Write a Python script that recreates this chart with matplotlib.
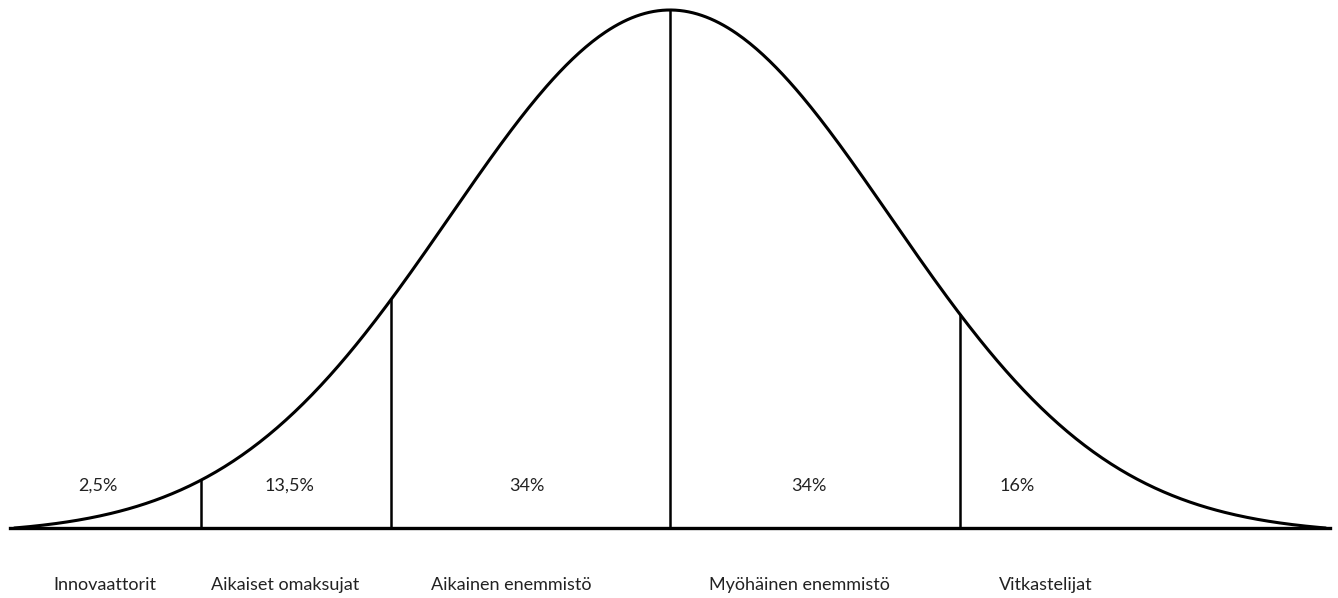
import numpy as np
import matplotlib.pyplot as plt

# omaksujaryhmät (Rogers), rajat keskihajonnan yksiköissä
groups = ["Innovaattorit", "Aikaiset omaksujat", "Aikainen enemmistö",
          "Myöhäinen enemmistö", "Vitkastelijat"]
shares = ["2,5%", "13,5%", "34%", "34%", "16%"]
bounds = [-2.13, -1.27, 0.0, 1.32]
share_x = [-2.60, -1.73, -0.65, 0.63, 1.58]
group_x = [-2.57, -1.75, -0.72, 0.59, 1.71]
z_end = 2.98


def bell(z):
    e0 = np.exp(-z_end**2 / 2)
    return (np.exp(-np.asarray(z)**2 / 2) - e0) / (1 - e0)


fig = plt.figure(figsize=(13.38, 5.98), dpi=100)
ax = fig.add_axes([0, 0, 1, 1])
ax.set_xlim(-670 / 220, 668 / 220)
ax.set_ylim(-70 / 518, 528 / 518)
ax.axis("off")

z = np.linspace(-z_end, z_end, 600)
ax.plot(z, bell(z), color="black", lw=2.2, solid_capstyle="round")
ax.plot([-3.0, 3.0], [0, 0], color="black", lw=2.4)

for b in bounds:
    ax.plot([b, b], [0, bell(b)], color="black", lw=1.8)

for x, s in zip(share_x, shares):
    ax.text(x, (528 - 486) / 518, s, ha="center", va="center",
            fontsize=13, family="Lato", color="#222222")
for x, g in zip(group_x, groups):
    ax.text(x, (528 - 585) / 518, g, ha="center", va="center",
            fontsize=13, family="Lato", color="#222222")

fig.savefig("out.png", dpi=100)
